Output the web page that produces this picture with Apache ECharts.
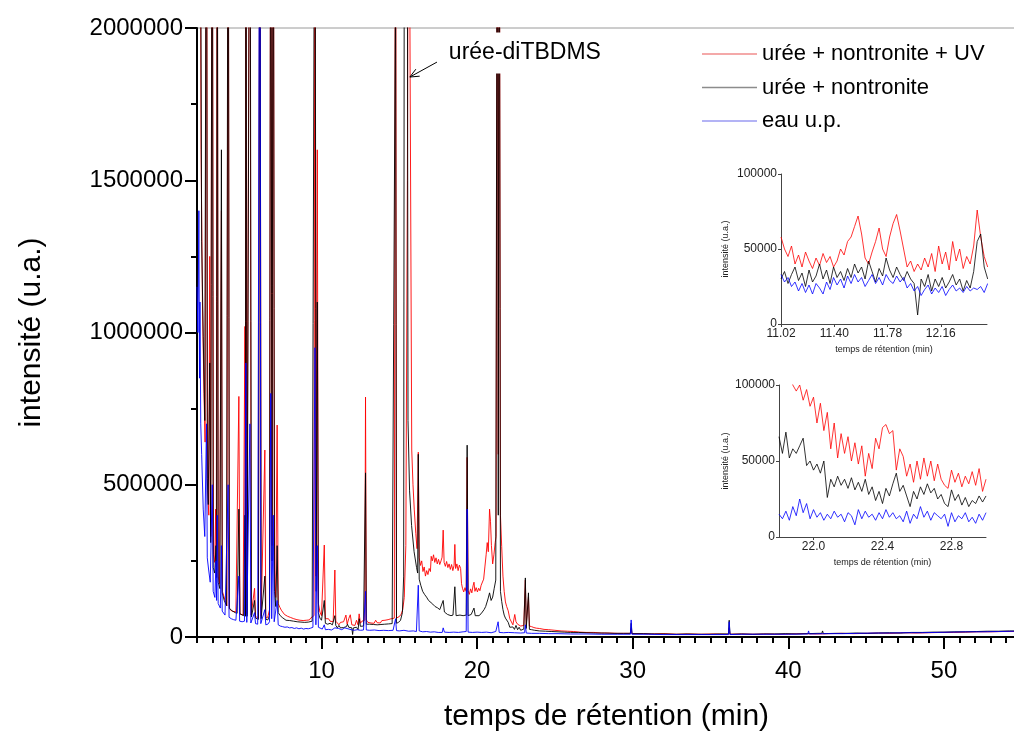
<!DOCTYPE html>
<html>
<head>
<meta charset="utf-8">
<script src="https://cdn.jsdelivr.net/npm/echarts@6/dist/echarts.min.js"></script>
<style>html,body{margin:0;padding:0;background:#fff;}#c{width:1014px;height:731px;}</style>
</head>
<body>
<div id="c"></div>
<script>
// ---------- DATA ----------
const seriesNames = ['urée + nontronite + UV', 'urée + nontronite', 'eau u.p.'];
const xTickLabels = [10, 20, 30, 40, 50];
const yTickLabels = [0, 500000, 1000000, 1500000, 2000000];
const annotText = 'urée-diTBDMS';
const annotLabelAt = [17.80, 1918000];
const annotArrowFrom = [17.42, 1888000];
const annotArrowTo = [15.68, 1839000];

const mainRed = [
[2.00,3000000],[2.12,2500000],[2.19,3000000],[2.26,1600000],[2.35,1100000],[2.45,800000],[2.52,640000],[2.61,3000000],[2.68,480000],[2.76,400000],[2.82,1250000],[2.88,330000],[2.98,3000000],[3.06,270000],[3.14,245000],[3.20,420000],[3.24,230000],[3.30,3000000],[3.36,200000],[3.45,175000],[3.57,1400000],[3.63,150000],[3.72,135000],[3.82,118000],[3.92,102000],[4.00,3000000],[4.08,92000],[4.18,88000],[4.28,84000],[4.40,80000],[4.50,83000],[4.60,77000],[4.69,790000],[4.76,76000],[4.86,80000],[4.96,72000],[5.08,1020000],[5.11,70000],[5.14,3000000],[5.20,75000],[5.30,70000],[5.40,3000000],[5.48,72000],[5.58,68000],[5.70,160000],[5.76,66000],[5.86,70000],[5.95,64000],[6.04,3000000],[6.12,68000],[6.24,64000],[6.36,614000],[6.42,62000],[6.55,65000],[6.66,90000],[6.74,3000000],[6.82,300000],[6.90,3000000],[6.98,220000],[7.06,130000],[7.15,696000],[7.22,110000],[7.32,98000],[7.42,88000],[7.52,82000],[7.62,74000],[7.72,78000],[7.82,68000],[7.92,72000],[8.02,64000],[8.12,68000],[8.22,60000],[8.32,64000],[8.42,57000],[8.52,62000],[8.62,55000],[8.72,60000],[8.82,54000],[8.92,58000],[9.02,55000],[9.12,60000],[9.22,56000],[9.32,63000],[9.42,62000],[9.52,70000],[9.58,3000000],[9.64,200000],[9.73,1600000],[9.80,110000],[9.90,82000],[10.00,70000],[10.08,64000],[10.18,302000],[10.25,60000],[10.35,55000],[10.45,60000],[10.55,52000],[10.65,57000],[10.75,50000],[10.86,220000],[10.92,52000],[11.02,58000],[11.12,40000],[11.22,48000],[11.32,44000],[11.42,50000],[11.57,72000],[11.65,42000],[11.75,60000],[11.85,73000],[11.95,40000],[12.05,44000],[12.15,38000],[12.25,55000],[12.35,40000],[12.42,76000],[12.50,45000],[12.60,52000],[12.70,46000],[12.78,55000],[12.83,788000],[12.88,56000],[12.98,48000],[13.08,54000],[13.18,46000],[13.28,52000],[13.38,45000],[13.48,55000],[13.58,47000],[13.68,52000],[13.78,46000],[13.88,54000],[13.98,48000],[14.08,55000],[14.18,50000],[14.28,57000],[14.38,52000],[14.48,60000],[14.58,54000],[14.68,62000],[14.76,3000000],[14.82,62000],[14.92,65000],[15.02,68000],[15.12,75000],[15.22,90000],[15.32,130000],[15.42,300000],[15.52,1500000],[15.60,3000000],[15.72,3000000],[15.80,614000],[15.88,500000],[15.96,420000],[16.06,340000],[16.14,290000],[16.22,607000],[16.28,260000],[16.36,235000],[16.44,250000],[16.52,215000],[16.60,230000],[16.68,200000],[16.76,218000],[16.84,205000],[16.92,225000],[17.00,215000],[17.05,265000],[17.12,250000],[17.20,270000],[17.28,245000],[17.36,260000],[17.44,240000],[17.52,255000],[17.60,238000],[17.68,250000],[17.75,262000],[17.82,351000],[17.88,245000],[17.96,232000],[18.04,248000],[18.12,228000],[18.20,240000],[18.28,222000],[18.36,238000],[18.44,218000],[18.52,235000],[18.57,304000],[18.62,225000],[18.70,240000],[18.78,218000],[18.86,236000],[18.94,225000],[19.00,175000],[19.06,160000],[19.14,148000],[19.22,162000],[19.30,150000],[19.36,590000],[19.42,152000],[19.50,140000],[19.58,158000],[19.66,145000],[19.74,168000],[19.80,180000],[19.86,150000],[19.94,162000],[20.02,148000],[20.10,160000],[20.18,152000],[20.26,170000],[20.34,165000],[20.42,190000],[20.50,230000],[20.58,270000],[20.65,310000],[20.72,280000],[20.80,420000],[20.86,380000],[20.92,300000],[21.00,240000],[21.08,270000],[21.16,310000],[21.22,330000],[21.30,3000000],[21.36,600000],[21.42,3000000],[21.50,400000],[21.58,297000],[21.66,200000],[21.74,150000],[21.82,115000],[21.90,100000],[22.00,86000],[22.10,60000],[22.20,65000],[22.30,40000],[22.42,74000],[22.50,50000],[22.60,42000],[22.70,48000],[22.80,36000],[22.90,42000],[23.00,38000],[23.05,37000],[23.10,187000],[23.16,40000],[23.24,36000],[23.30,131000],[23.36,36000],[23.50,34000],[23.65,31000],[23.80,29000],[24.00,28000],[24.30,25000],[24.60,24000],[25.00,22000],[25.40,20000],[25.80,19000],[26.20,18000],[26.60,16000],[27.00,15000],[27.50,15000],[28.00,13000],[28.50,13000],[29.00,12000],[29.50,12000],[29.85,12000],[29.90,28000],[29.95,11000],[30.60,11000],[31.20,10000],[32.00,11000],[32.80,9000],[33.60,10000],[34.40,9000],[35.20,10000],[36.00,9000],[36.15,9000],[36.20,30000],[36.25,9000],[37.00,10000],[37.80,9000],[38.60,10000],[39.40,9000],[40.20,10000],[41.00,11000],[41.80,10000],[42.60,11000],[43.40,12000],[44.20,11000],[45.00,12000],[45.80,13000],[46.60,12000],[47.40,14000],[48.20,13000],[49.00,14000],[49.80,15000],[50.60,15000],[51.40,16000],[52.20,17000],[53.00,17000],[53.80,18000],[54.60,18000]
];

const mainBlack = [
[2.00,3000000],[2.19,3000000],[2.30,1300000],[2.40,988000],[2.50,711000],[2.61,3000000],[2.66,520000],[2.72,435000],[2.82,900000],[2.88,310000],[2.98,3000000],[3.04,228000],[3.14,210000],[3.22,300000],[3.26,195000],[3.30,3000000],[3.36,180000],[3.47,159000],[3.57,1600000],[3.62,145000],[3.75,120000],[3.90,103000],[4.00,3000000],[4.08,95000],[4.20,88000],[4.32,84000],[4.45,80000],[4.58,78000],[4.69,420000],[4.76,76000],[4.88,72000],[5.00,70000],[5.08,400000],[5.11,68000],[5.14,3000000],[5.22,68000],[5.32,64000],[5.40,3000000],[5.50,66000],[5.62,62000],[5.70,120000],[5.76,62000],[5.83,62000],[5.95,58000],[6.04,3000000],[6.12,60000],[6.24,56000],[6.36,200000],[6.42,58000],[6.55,56000],[6.66,70000],[6.74,3000000],[6.82,250000],[6.90,3000000],[6.98,150000],[7.06,100000],[7.15,300000],[7.22,80000],[7.35,70000],[7.48,64000],[7.60,58000],[7.72,55000],[7.84,52000],[7.96,54000],[8.08,50000],[8.20,52000],[8.32,48000],[8.44,50000],[8.56,46000],[8.68,49000],[8.80,45000],[8.92,48000],[9.04,46000],[9.16,49000],[9.28,47000],[9.40,52000],[9.52,56000],[9.58,3000000],[9.66,150000],[9.73,1100000],[9.80,80000],[9.90,62000],[10.00,55000],[10.10,50000],[10.18,120000],[10.25,45000],[10.40,42000],[10.55,45000],[10.70,40000],[10.86,70000],[10.92,38000],[11.02,30000],[11.12,38000],[11.22,30000],[11.32,36000],[11.42,31000],[11.52,37000],[11.60,34000],[11.67,42000],[11.75,32000],[11.85,38000],[11.95,30000],[12.00,8000],[12.05,30000],[12.15,25000],[12.25,32000],[12.35,24000],[12.43,60000],[12.50,35000],[12.60,40000],[12.70,36000],[12.78,42000],[12.83,539000],[12.88,42000],[12.98,38000],[13.10,42000],[13.22,37000],[13.34,41000],[13.46,36000],[13.58,40000],[13.70,37000],[13.82,41000],[13.94,38000],[14.06,42000],[14.18,39000],[14.30,43000],[14.42,40000],[14.54,44000],[14.66,42000],[14.76,2200000],[14.82,45000],[14.95,48000],[15.08,55000],[15.20,80000],[15.28,200000],[15.33,3000000],[15.50,3000000],[15.56,711000],[15.66,480000],[15.79,366000],[15.95,280000],[16.11,228000],[16.18,210000],[16.22,600000],[16.28,190000],[16.38,170000],[16.50,150000],[16.62,140000],[16.75,131000],[16.88,120000],[17.00,115000],[17.15,108000],[17.30,100000],[17.45,96000],[17.60,90000],[17.72,88000],[17.82,120000],[17.90,82000],[18.00,78000],[18.10,74000],[18.20,72000],[18.32,70000],[18.45,72000],[18.57,165000],[18.65,70000],[18.75,68000],[18.90,72000],[19.00,66000],[19.10,70000],[19.20,68000],[19.30,72000],[19.36,630000],[19.42,70000],[19.52,68000],[19.62,74000],[19.72,70000],[19.80,95000],[19.88,70000],[20.00,72000],[20.12,70000],[20.25,76000],[20.35,80000],[20.45,90000],[20.55,100000],[20.62,103000],[20.70,125000],[20.80,145000],[20.90,120000],[21.00,131000],[21.10,160000],[21.20,187000],[21.30,3000000],[21.36,400000],[21.42,3000000],[21.50,150000],[21.58,117000],[21.66,90000],[21.74,72000],[21.82,62000],[21.90,58000],[22.00,48000],[22.10,32000],[22.20,38000],[22.30,33000],[22.40,25000],[22.50,38000],[22.60,24000],[22.70,32000],[22.80,22000],[22.90,27000],[23.00,26000],[23.05,26000],[23.10,194000],[23.16,28000],[23.24,25000],[23.30,145000],[23.36,25000],[23.50,24000],[23.70,22000],[24.00,20000],[24.40,19000],[24.80,18000],[25.20,17000],[25.60,16000],[26.00,15000],[26.50,15000],[27.00,14000],[27.60,13000],[28.20,13000],[28.80,12000],[29.40,12000],[29.85,12000],[29.90,45000],[29.95,11000],[30.70,11000],[31.40,10000],[32.10,10000],[32.80,9000],[33.50,10000],[34.20,9000],[34.90,9000],[35.60,10000],[36.15,10000],[36.20,55000],[36.25,9000],[37.00,10000],[37.70,9000],[38.40,10000],[39.10,10000],[39.80,11000],[40.50,10000],[41.20,11000],[41.90,12000],[42.15,12000],[42.20,20000],[42.25,11000],[43.00,12000],[43.70,12000],[44.40,13000],[45.10,12000],[45.80,13000],[46.50,14000],[47.20,13000],[47.90,15000],[48.60,15000],[49.30,16000],[50.00,16000],[50.70,17000],[51.40,17000],[52.10,18000],[52.80,19000],[53.50,19000],[54.20,20000],[54.60,20000]
];

const mainBlue = [
[2.00,1150000],[2.06,1000000],[2.12,1400000],[2.16,850000],[2.19,1100000],[2.24,700000],[2.30,600000],[2.40,420000],[2.50,330000],[2.61,700000],[2.66,260000],[2.75,220000],[2.85,180000],[2.98,500000],[3.04,150000],[3.15,130000],[3.22,250000],[3.26,120000],[3.30,400000],[3.36,110000],[3.50,95000],[3.57,300000],[3.62,85000],[3.80,72000],[3.92,68000],[4.00,500000],[4.06,65000],[4.20,60000],[4.35,57000],[4.50,55000],[4.69,200000],[4.74,52000],[4.90,50000],[5.05,52000],[5.14,900000],[5.20,48000],[5.30,46000],[5.40,700000],[5.46,46000],[5.58,45000],[5.70,80000],[5.76,44000],[5.90,42000],[6.04,3000000],[6.10,44000],[6.20,40000],[6.36,90000],[6.42,40000],[6.55,42000],[6.66,50000],[6.74,800000],[6.80,60000],[6.90,400000],[6.96,50000],[7.06,45000],[7.15,120000],[7.22,40000],[7.35,36000],[7.50,34000],[7.65,32000],[7.80,33000],[7.95,30000],[8.10,31000],[8.25,28000],[8.40,30000],[8.55,27000],[8.70,29000],[8.85,26000],[9.00,28000],[9.15,27000],[9.30,29000],[9.45,32000],[9.58,950000],[9.64,40000],[9.73,300000],[9.80,32000],[9.90,28000],[10.05,26000],[10.18,40000],[10.25,24000],[10.45,25000],[10.65,23000],[10.86,30000],[10.95,26000],[11.10,28000],[11.30,24000],[11.50,30000],[11.70,27000],[11.90,24000],[12.10,22000],[12.30,24000],[12.50,22000],[12.70,23000],[12.78,23000],[12.83,150000],[12.88,23000],[13.10,22000],[13.40,23000],[13.70,21000],[14.00,22000],[14.30,21000],[14.60,22000],[14.70,22000],[14.76,60000],[14.82,21000],[15.00,20000],[15.30,22000],[15.60,19000],[15.90,20000],[16.10,18000],[16.16,18000],[16.22,170000],[16.28,20000],[16.50,17000],[16.75,18000],[17.00,16000],[17.25,17000],[17.50,15000],[17.76,15000],[17.82,30000],[17.90,16000],[18.20,15000],[18.50,16000],[18.80,15000],[19.10,17000],[19.30,18000],[19.36,420000],[19.42,16000],[19.70,15000],[20.00,16000],[20.30,15000],[20.60,16000],[20.90,14000],[21.20,18000],[21.30,17000],[21.35,50000],[21.42,15000],[21.70,14000],[22.00,15000],[22.40,14000],[22.80,13000],[23.05,14000],[23.10,40000],[23.16,13000],[23.50,12000],[24.00,12000],[24.60,11000],[25.20,11000],[26.00,10000],[27.00,10000],[28.00,9000],[29.00,9000],[29.85,9000],[29.90,56000],[29.95,9000],[31.00,9000],[32.00,8000],[33.00,8000],[34.00,8000],[35.00,8000],[36.15,8000],[36.20,50000],[36.25,8000],[37.00,9000],[38.00,9000],[39.00,9000],[40.00,9000],[41.25,10000],[41.30,20000],[41.35,10000],[42.50,11000],[43.50,11000],[44.50,12000],[45.50,13000],[46.50,13000],[47.50,14000],[48.50,14000],[49.50,15000],[50.50,16000],[51.50,17000],[52.50,17000],[53.50,18000],[54.60,19000]
];

// inset 1 (11.02 – 12.49 min)
const inset1Time = [11.020,11.045,11.070,11.095,11.120,11.145,11.170,11.195,11.220,11.245,11.270,11.295,11.320,11.345,11.370,11.395,11.420,11.445,11.470,11.495,11.520,11.545,11.570,11.595,11.620,11.645,11.670,11.695,11.720,11.745,11.770,11.795,11.820,11.845,11.870,11.895,11.920,11.945,11.970,11.995,12.020,12.045,12.070,12.095,12.120,12.145,12.170,12.195,12.220,12.245,12.270,12.295,12.320,12.345,12.370,12.395,12.420,12.445,12.470,12.495];
const inset1Red = [58000,50000,45000,52000,40000,46000,38000,48000,42000,37000,44000,39000,47000,41000,45000,38000,42000,50000,46000,55000,58000,65000,72000,60000,44000,40000,48000,55000,64000,50000,45000,58000,67000,73000,62000,50000,38000,42000,35000,40000,36000,44000,38000,47000,35000,52000,40000,48000,36000,55000,42000,50000,37000,45000,40000,52000,76000,58000,45000,38000];
const inset1Black = [30000,35000,27000,33000,38000,29000,34000,25000,36000,28000,32000,40000,30000,36000,27000,38000,31000,35000,29000,37000,31000,40000,34000,38000,30000,42000,35000,28000,37000,32000,44000,36000,31000,38000,33000,29000,35000,30000,27000,6000,30000,25000,33000,22000,30000,25000,31000,24000,28000,33000,26000,30000,22000,29000,24000,35000,55000,60000,38000,30000];
const inset1Blue = [33000,28000,31000,25000,28000,22000,27000,21000,26000,20000,27000,24000,20000,28000,23000,31000,26000,30000,24000,32000,27000,33000,28000,31000,25000,29000,33000,27000,31000,26000,33000,29000,27000,32000,28000,31000,24000,27000,22000,25000,19000,23000,26000,20000,24000,21000,25000,19000,23000,26000,22000,24000,21000,25000,22000,24000,23000,25000,21000,27000];

// inset 2 (21.8 – 23.0 min)
const inset2Time = [21.80,21.82,21.84,21.86,21.88,21.90,21.92,21.94,21.96,21.98,22.00,22.02,22.04,22.06,22.08,22.10,22.12,22.14,22.16,22.18,22.20,22.22,22.24,22.26,22.28,22.30,22.32,22.34,22.36,22.38,22.40,22.42,22.44,22.46,22.48,22.50,22.52,22.54,22.56,22.58,22.60,22.62,22.64,22.66,22.68,22.70,22.72,22.74,22.76,22.78,22.80,22.82,22.84,22.86,22.88,22.90,22.92,22.94,22.96,22.98,23.00];
const inset2Red = [120000,115000,112000,108000,100000,96000,100000,90000,97000,86000,92000,75000,88000,70000,82000,58000,75000,52000,68000,55000,66000,50000,62000,48000,60000,40000,55000,45000,65000,58000,72000,74000,68000,70000,44000,58000,53000,40000,48000,36000,50000,38000,52000,40000,50000,37000,48000,38000,34000,32000,44000,36000,42000,33000,40000,35000,43000,34000,45000,30000,38000];
const inset2Black = [66000,55000,69000,52000,58000,55000,60000,65000,47000,50000,44000,48000,42000,50000,26000,38000,33000,40000,34000,38000,32000,39000,31000,36000,30000,38000,28000,33000,24000,30000,22000,32000,27000,35000,42000,30000,34000,27000,20000,30000,25000,33000,28000,35000,29000,32000,25000,28000,22000,20000,31000,24000,28000,21000,26000,20000,24000,22000,27000,23000,27000];
const inset2Blue = [15000,12000,17000,11000,20000,14000,25000,16000,22000,12000,18000,13000,16000,11000,15000,12000,17000,13000,15000,10000,16000,14000,8000,18000,12000,17000,13000,15000,11000,16000,12000,18000,13000,16000,12000,14000,10000,17000,9000,15000,12000,20000,13000,17000,11000,16000,14000,12000,15000,7000,16000,10000,14000,12000,16000,10000,13000,9000,15000,11000,16000];
const inset1XTicks = [11.02, 11.40, 11.78, 12.16];
const inset2XTicks = [22.0, 22.4, 22.8];
const insetYTicks = [0, 50000, 100000];

// ---------- CHART ----------
const FONT = '"Liberation Sans", Arial, sans-serif';
const colors = ['#ff0000', '#000000', '#0000ff'];
const legendColors = ['#f08c8c', '#8c8c8c', '#9a9af2'];
const chart = echarts.init(document.getElementById('c'), null, {renderer: 'canvas'});
const zip = (t, v) => t.map((x, i) => [x, v[i]]);
const plain = v => String(Math.round(v));

function insetX(gridIndex, min, max, ticks, digits) {
  return {
    gridIndex, type: 'value', min, max, position: 'bottom',
    axisLine: {show: true, onZero: false, lineStyle: {color: '#444', width: 1}},
    axisTick: {show: true, length: 3, customValues: ticks, lineStyle: {color: '#444'}},
    axisLabel: {customValues: ticks, fontSize: 12, color: '#222', margin: 4, fontFamily: FONT,
      formatter: v => v.toFixed(digits)},
    splitLine: {show: false},
    name: 'temps de rétention (min)', nameLocation: 'middle', nameGap: 21,
    nameTextStyle: {fontSize: 9, color: '#222', fontFamily: FONT}
  };
}
function insetY(gridIndex, gap) {
  return {
    gridIndex, type: 'value', min: 0, max: 100000,
    axisLine: {show: true, lineStyle: {color: '#444', width: 1}},
    axisTick: {show: true, length: 3, customValues: insetYTicks, lineStyle: {color: '#444'}},
    axisLabel: {customValues: insetYTicks, fontSize: 12, color: '#222', margin: 4, fontFamily: FONT, formatter: plain},
    splitLine: {show: false},
    name: 'intensité (u.a.)', nameLocation: 'middle', nameGap: gap, nameRotate: 90,
    nameTextStyle: {fontSize: 9, color: '#222', fontFamily: FONT}
  };
}
function line(name, data, ci, xi, yi, w) {
  return {name, type: 'line', data, xAxisIndex: xi, yAxisIndex: yi, showSymbol: false, symbol: 'none',
    color: colors[ci], lineStyle: {color: colors[ci], width: w}, clip: true, animation: false, silent: true};
}

const option = {
  backgroundColor: '#ffffff',
  animation: false,
  textStyle: {fontFamily: FONT},
  grid: [
    {left: 197, top: 28, right: -2, bottom: 94, show: true, borderColor: '#9a9a9a', borderWidth: 1,
      backgroundColor: 'transparent', containLabel: false, outerBoundsMode: 'none'},
    {left: 781, top: 174, width: 206, height: 150, containLabel: false, outerBoundsMode: 'none'},
    {left: 779, top: 385, width: 207, height: 152, containLabel: false, outerBoundsMode: 'none'}
  ],
  legend: {
    orient: 'vertical', left: 697, top: 38, itemWidth: 55, itemHeight: 1.5, itemGap: 11.5, icon: 'rect',
    textStyle: {fontSize: 22, color: '#000', fontFamily: FONT},
    data: seriesNames.map((n, i) => ({name: n, itemStyle: {color: legendColors[i]}})),
    selectedMode: false
  },
  xAxis: [
    {gridIndex: 0, type: 'value', min: 2, max: 54.63, position: 'bottom',
      axisLine: {show: true, onZero: false, lineStyle: {color: '#000', width: 2}},
      axisTick: {show: true, length: 12, customValues: xTickLabels, lineStyle: {color: '#000', width: 2}},
      axisLabel: {customValues: xTickLabels, fontSize: 24, color: '#000', margin: 22, fontFamily: FONT},
      splitLine: {show: false},
      name: 'temps de rétention (min)', nameLocation: 'middle', nameGap: 65,
      nameTextStyle: {fontSize: 30, color: '#000', fontFamily: FONT}},
    {gridIndex: 0, type: 'value', min: 2, max: 54.63, interval: 1, position: 'bottom',
      axisLine: {show: false, onZero: false},
      axisTick: {show: true, length: 6, lineStyle: {color: '#000', width: 2}},
      axisLabel: {show: false}, splitLine: {show: false}},
    insetX(1, 11.02, 12.49, inset1XTicks, 2),
    insetX(2, 21.8, 23.0, inset2XTicks, 1)
  ],
  yAxis: [
    {gridIndex: 0, type: 'value', min: 0, max: 2000000, interval: 500000,
      axisLine: {show: true, lineStyle: {color: '#000', width: 2}},
      axisTick: {show: true, length: 12, lineStyle: {color: '#000', width: 2}},
      minorTick: {show: true, splitNumber: 2, length: 6, lineStyle: {color: '#000', width: 2}},
      axisLabel: {customValues: yTickLabels, fontSize: 24, color: '#000', margin: 14, fontFamily: FONT, formatter: plain},
      splitLine: {show: false}, minorSplitLine: {show: false},
      name: 'intensité (u.a.)', nameLocation: 'middle', nameGap: 150, nameRotate: 90,
      nameTextStyle: {fontSize: 30, color: '#000', fontFamily: FONT}},
    insetY(1, 51),
    insetY(2, 49)
  ],
  series: [
    line(seriesNames[0], mainRed, 0, 0, 0, 0.9),
    line(seriesNames[1], mainBlack, 1, 0, 0, 0.9),
    line(seriesNames[2], mainBlue, 2, 0, 0, 0.9),
    line(seriesNames[0], zip(inset1Time, inset1Red), 0, 2, 1, 0.8),
    line(seriesNames[1], zip(inset1Time, inset1Black), 1, 2, 1, 0.8),
    line(seriesNames[2], zip(inset1Time, inset1Blue), 2, 2, 1, 0.8),
    line(seriesNames[0], zip(inset2Time, inset2Red), 0, 3, 2, 0.8),
    line(seriesNames[1], zip(inset2Time, inset2Black), 1, 3, 2, 0.8),
    line(seriesNames[2], zip(inset2Time, inset2Blue), 2, 3, 2, 0.8)
  ]
};
chart.setOption(option);

// annotation anchored to data coordinates
const toPx = p => chart.convertToPixel({xAxisIndex: 0, yAxisIndex: 0}, p);
const pL = toPx(annotLabelAt), pF = toPx(annotArrowFrom), pT = toPx(annotArrowTo);
const dx = pT[0] - pF[0], dy = pT[1] - pF[1], len = Math.hypot(dx, dy);
const ux = dx / len, uy = dy / len, hs = 9, hw = 4;
const h1 = [pT[0] - ux * hs - uy * hw, pT[1] - uy * hs + ux * hw];
const h2 = [pT[0] - ux * hs + uy * hw, pT[1] - uy * hs - ux * hw];
chart.setOption({
  graphic: [
    {type: 'text', x: pL[0], y: pL[1], z: 100,
      style: {text: annotText, fontSize: 23, fontFamily: FONT, fill: '#000', verticalAlign: 'middle', align: 'left',
        backgroundColor: '#ffffff', padding: [9, 6, 9, 6]}},
    {type: 'polyline', z: 100, shape: {points: [pF, pT]}, style: {stroke: '#000', lineWidth: 1, fill: null}},
    {type: 'polyline', z: 100, shape: {points: [h1, pT, h2]}, style: {stroke: '#000', lineWidth: 1, fill: null}}
  ]
});
</script>
</body>
</html>
